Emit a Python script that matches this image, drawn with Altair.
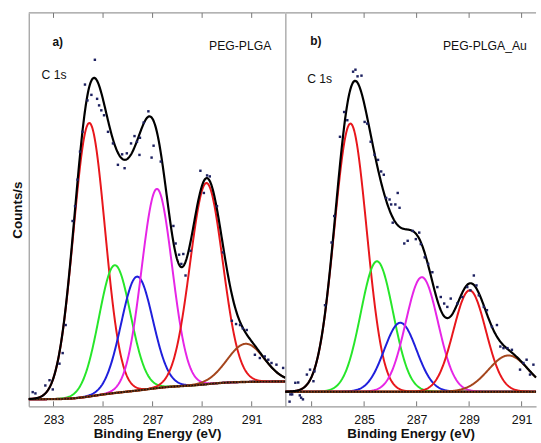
import numpy as np
import pandas as pd
import altair as alt

# ---- axes -----------------------------------------------------------------
range_a = [282.0, 292.36]          # binding-energy window, panel a (eV)
range_b = [282.0, 291.55]          # binding-energy window, panel b (eV)
count_max = 3970                   # top of the intensity axis (counts/s)
tick_values = [283, 285, 287, 289, 291]

# ---- fitted C 1s components ----------------------------------------------
comp_names = ["p1", "p2", "p3", "p4", "p5", "p6"]
comp_colors = ["#e8171c", "#27e62a", "#1f1fdc", "#e625e6", "#e8171c", "#a5461d"]

peak_a_center = [284.44, 285.47, 286.37, 287.17, 289.17, 290.76]
peak_a_height = [2760, 1290, 1150, 2010, 2030, 385]
peak_a_fwhm = [1.50, 1.50, 1.50, 1.45, 1.55, 1.75]
bg_a_ends = [72, 250]              # Shirley background at low / high BE end

peak_b_center = [284.48, 285.49, 286.38, 287.20, 289.02, 290.50]
peak_b_height = [2706, 1316, 696, 1156, 1023, 366]
peak_b_fwhm = [1.45, 1.45, 1.45, 1.45, 1.45, 1.80]
bg_b_ends = [147, 147]

# ---- measured spectra -----------------------------------------------------
dots_a_E = [282.16, 282.27, 282.67, 282.84, 282.97, 283.24, 283.37, 283.49, 283.77, 283.87,
            283.97, 284.07, 284.17, 284.27, 284.37, 284.53, 284.67, 284.76, 284.84, 284.93,
            285.04, 285.20, 285.40, 285.60, 285.77, 285.87, 285.96, 286.13, 286.27, 286.37,
            286.49, 286.47, 286.64, 286.83, 286.96, 287.04, 287.33, 287.84, 287.93, 288.07,
            288.16, 288.24, 288.33, 288.53, 288.93, 289.07, 289.20, 289.31, 289.60, 289.84,
            290.20, 290.37, 290.53, 290.64, 290.80, 291.13, 291.33, 291.53, 291.67, 291.80,
            292.00, 292.27]
dots_a_counts = [143, 130, 210, 263, 170, 430, 537, 820, 1870, 2020,
                 2287, 2570, 2770, 3247, 3087, 3143, 3497, 3103, 3037, 2987,
                 2937, 2770, 2653, 2437, 2543, 2403, 2553, 2653, 2727, 2670,
                 2710, 2537, 2863, 2977, 2510, 2630, 2470, 1820, 1643, 1530,
                 1437, 1537, 1320, 1570, 2377, 2153, 2330, 2320, 2020, 1553,
                 863, 830, 820, 787, 770, 520, 487, 503, 470, 437,
                 420, 387]

dots_b_E = [282.16, 282.19, 282.26, 282.38, 282.49, 282.55, 282.60, 282.67, 282.82, 282.94,
            283.07, 283.11, 283.51, 283.76, 283.86, 284.08, 284.24, 284.36, 284.58, 284.67,
            284.75, 284.90, 285.02, 285.12, 285.25, 285.40, 285.53, 285.65, 285.75, 285.84,
            285.97, 286.03, 286.09, 286.19, 286.28, 286.35, 286.53, 286.66, 286.85, 286.97,
            287.10, 287.16, 287.31, 287.44, 287.60, 287.79, 287.92, 288.05, 288.17, 288.30,
            288.55, 288.74, 288.93, 289.05, 289.18, 289.28, 289.37, 289.56, 289.68, 289.87,
            290.06, 290.19, 290.31, 290.46, 290.63, 290.94, 291.07, 291.19, 291.32, 291.45]
dots_b_counts = [47, 120, 120, 237, 240, 110, 87, 70, 320, 370,
                 253, 353, 1020, 1653, 1920, 2720, 2970, 2887, 3377, 3397,
                 3330, 3337, 2870, 2853, 2670, 2537, 2487, 2370, 2337, 2103,
                 2087, 2037, 1853, 2037, 2153, 2003, 1643, 1670, 1770, 1687,
                 1753, 1637, 1503, 1437, 1353, 1203, 1103, 1037, 1003, 1087,
                 1037, 1103, 1203, 1170, 1320, 1220, 1120, 1003, 970, 803,
                 820, 603, 587, 587, 570, 370, 437, 470, 320, 420]

AXIS_GREY = "#9a9a9a"
FONT = "Liberation Sans"
PANEL_H = 397


def fit_tables(e_range, centers, heights, fwhms, bg_ends):
    """Gaussian components on a Shirley-type background, plus their envelope."""
    e = np.linspace(e_range[0], e_range[1], 500)
    c = np.asarray(centers)[:, None]
    h = np.asarray(heights, dtype=float)[:, None]
    s = np.asarray(fwhms)[:, None] / 2.3548
    comps = h * np.exp(-0.5 * ((e - c) / s) ** 2)
    total = comps.sum(axis=0)
    cum = np.cumsum(total)
    frac = (cum - cum[0]) / (cum[-1] - cum[0])
    bg = bg_ends[0] + (bg_ends[1] - bg_ends[0]) * frac
    comp_df = pd.concat(
        [pd.DataFrame({"curve": name, "E": e, "y": bg + comps[i]})
         for i, name in enumerate(comp_names)],
        ignore_index=True,
    )
    env_df = pd.DataFrame({"E": e, "y": bg + total})
    bg_df = pd.DataFrame({"E": e, "y": bg})
    return comp_df, env_df, bg_df


def panel(e_range, width, centers, heights, fwhms, bg_ends, dots_E, dots_counts,
          tag, sample, tag_pos, sample_pos, line_pos, y_title):
    comp_df, env_df, bg_df = fit_tables(e_range, centers, heights, fwhms, bg_ends)
    x_scale = alt.Scale(domain=e_range, nice=False, zero=False)
    y_scale = alt.Scale(domain=[0, count_max], nice=False, zero=False)

    bottom_axis = alt.Axis(
        values=tick_values, format="d", ticks=False, grid=False,
        domainColor=AXIS_GREY, domainWidth=1.2,
        labelFont=FONT, labelFontSize=12.5, labelColor="#111111", labelPadding=7,
        title="Binding Energy (eV)", titleFont=FONT, titleFontSize=13.5,
        titleFontWeight="bold", titleColor="#111111", titlePadding=1,
    )
    left_axis = alt.Axis(
        labels=False, ticks=False, grid=False,
        domainColor=AXIS_GREY, domainWidth=1.2,
        title=y_title, titleFont=FONT, titleFontSize=13.5, titleFontWeight="bold",
        titleColor="#111111", titlePadding=4,
    )
    xb = alt.X("E:Q", scale=x_scale, axis=bottom_axis)
    yl = alt.Y("y:Q", scale=y_scale, axis=left_axis)

    components = alt.Chart(comp_df).mark_line(strokeWidth=2, clip=True).encode(
        x=xb, y=yl,
        color=alt.Color("curve:N", scale=alt.Scale(domain=comp_names, range=comp_colors),
                        legend=None),
        detail="curve:N",
    )
    background = alt.Chart(bg_df).mark_line(strokeWidth=2.4, color="#7a3512").encode(x=xb, y=yl)
    background_dots = alt.Chart(bg_df).mark_line(
        strokeWidth=1.4, color="#111111", strokeDash=[1.5, 1.5]).encode(x=xb, y=yl)
    envelope = alt.Chart(env_df).mark_line(strokeWidth=2.2, color="#000000").encode(x=xb, y=yl)
    measured = alt.Chart(pd.DataFrame({"E": dots_E, "y": dots_counts})).mark_square(
        size=6, color="#1c2060", opacity=1).encode(x=xb, y=yl)

    # frame line along the top edge and inward tick marks on both long edges
    top_edge = alt.Chart(pd.DataFrame({"E": [e_range[0]]})).mark_rule(
        color=AXIS_GREY, strokeWidth=1.2).encode(
        x=alt.value(0), x2=alt.value(width), y=alt.value(0))
    ticks_df = pd.DataFrame({"E": tick_values})
    top_ticks = alt.Chart(ticks_df).mark_rule(color="#777777", strokeWidth=1).encode(
        x=xb, y=alt.value(0), y2=alt.value(5))
    bottom_ticks = alt.Chart(ticks_df).mark_rule(color="#777777", strokeWidth=1).encode(
        x=xb, y=alt.value(PANEL_H - 5), y2=alt.value(PANEL_H))

    def label(text, pos, bold=False, size=12):
        return alt.Chart(pd.DataFrame({"t": [text]})).mark_text(
            align="left", baseline="middle", font=FONT, fontSize=size,
            fontWeight="bold" if bold else "normal", color="#111111",
        ).encode(text="t:N", x=alt.value(pos[0]), y=alt.value(pos[1]))

    texts = [
        label(tag, tag_pos, bold=True, size=12),
        label(sample, sample_pos, size=12.3),
        label("C 1s", line_pos, size=12.3),
    ]

    return alt.layer(
        components, background, background_dots, envelope, measured,
        top_edge, top_ticks, bottom_ticks, *texts,
    ).properties(width=width, height=PANEL_H)


panel_a = panel(range_a, 259, peak_a_center, peak_a_height, peak_a_fwhm, bg_a_ends,
                dots_a_E, dots_a_counts, "a)", "PEG-PLGA",
                (24, 29.5), (182, 33.5), (13, 62.5), "Counts/s")
panel_b = panel(range_b, 253, peak_b_center, peak_b_height, peak_b_fwhm, bg_b_ends,
                dots_b_E, dots_b_counts, "b)", "PEG-PLGA_Au",
                (25, 28), (159, 33), (22, 67), "")

chart = alt.hconcat(panel_a, panel_b, spacing=0, bounds="flush").properties(
    padding={"left": 11, "top": 10, "right": 0, "bottom": 0},
    background="white",
).configure_view(stroke=None)

chart.save("out.html", embed_options={"renderer": "svg", "actions": False})
